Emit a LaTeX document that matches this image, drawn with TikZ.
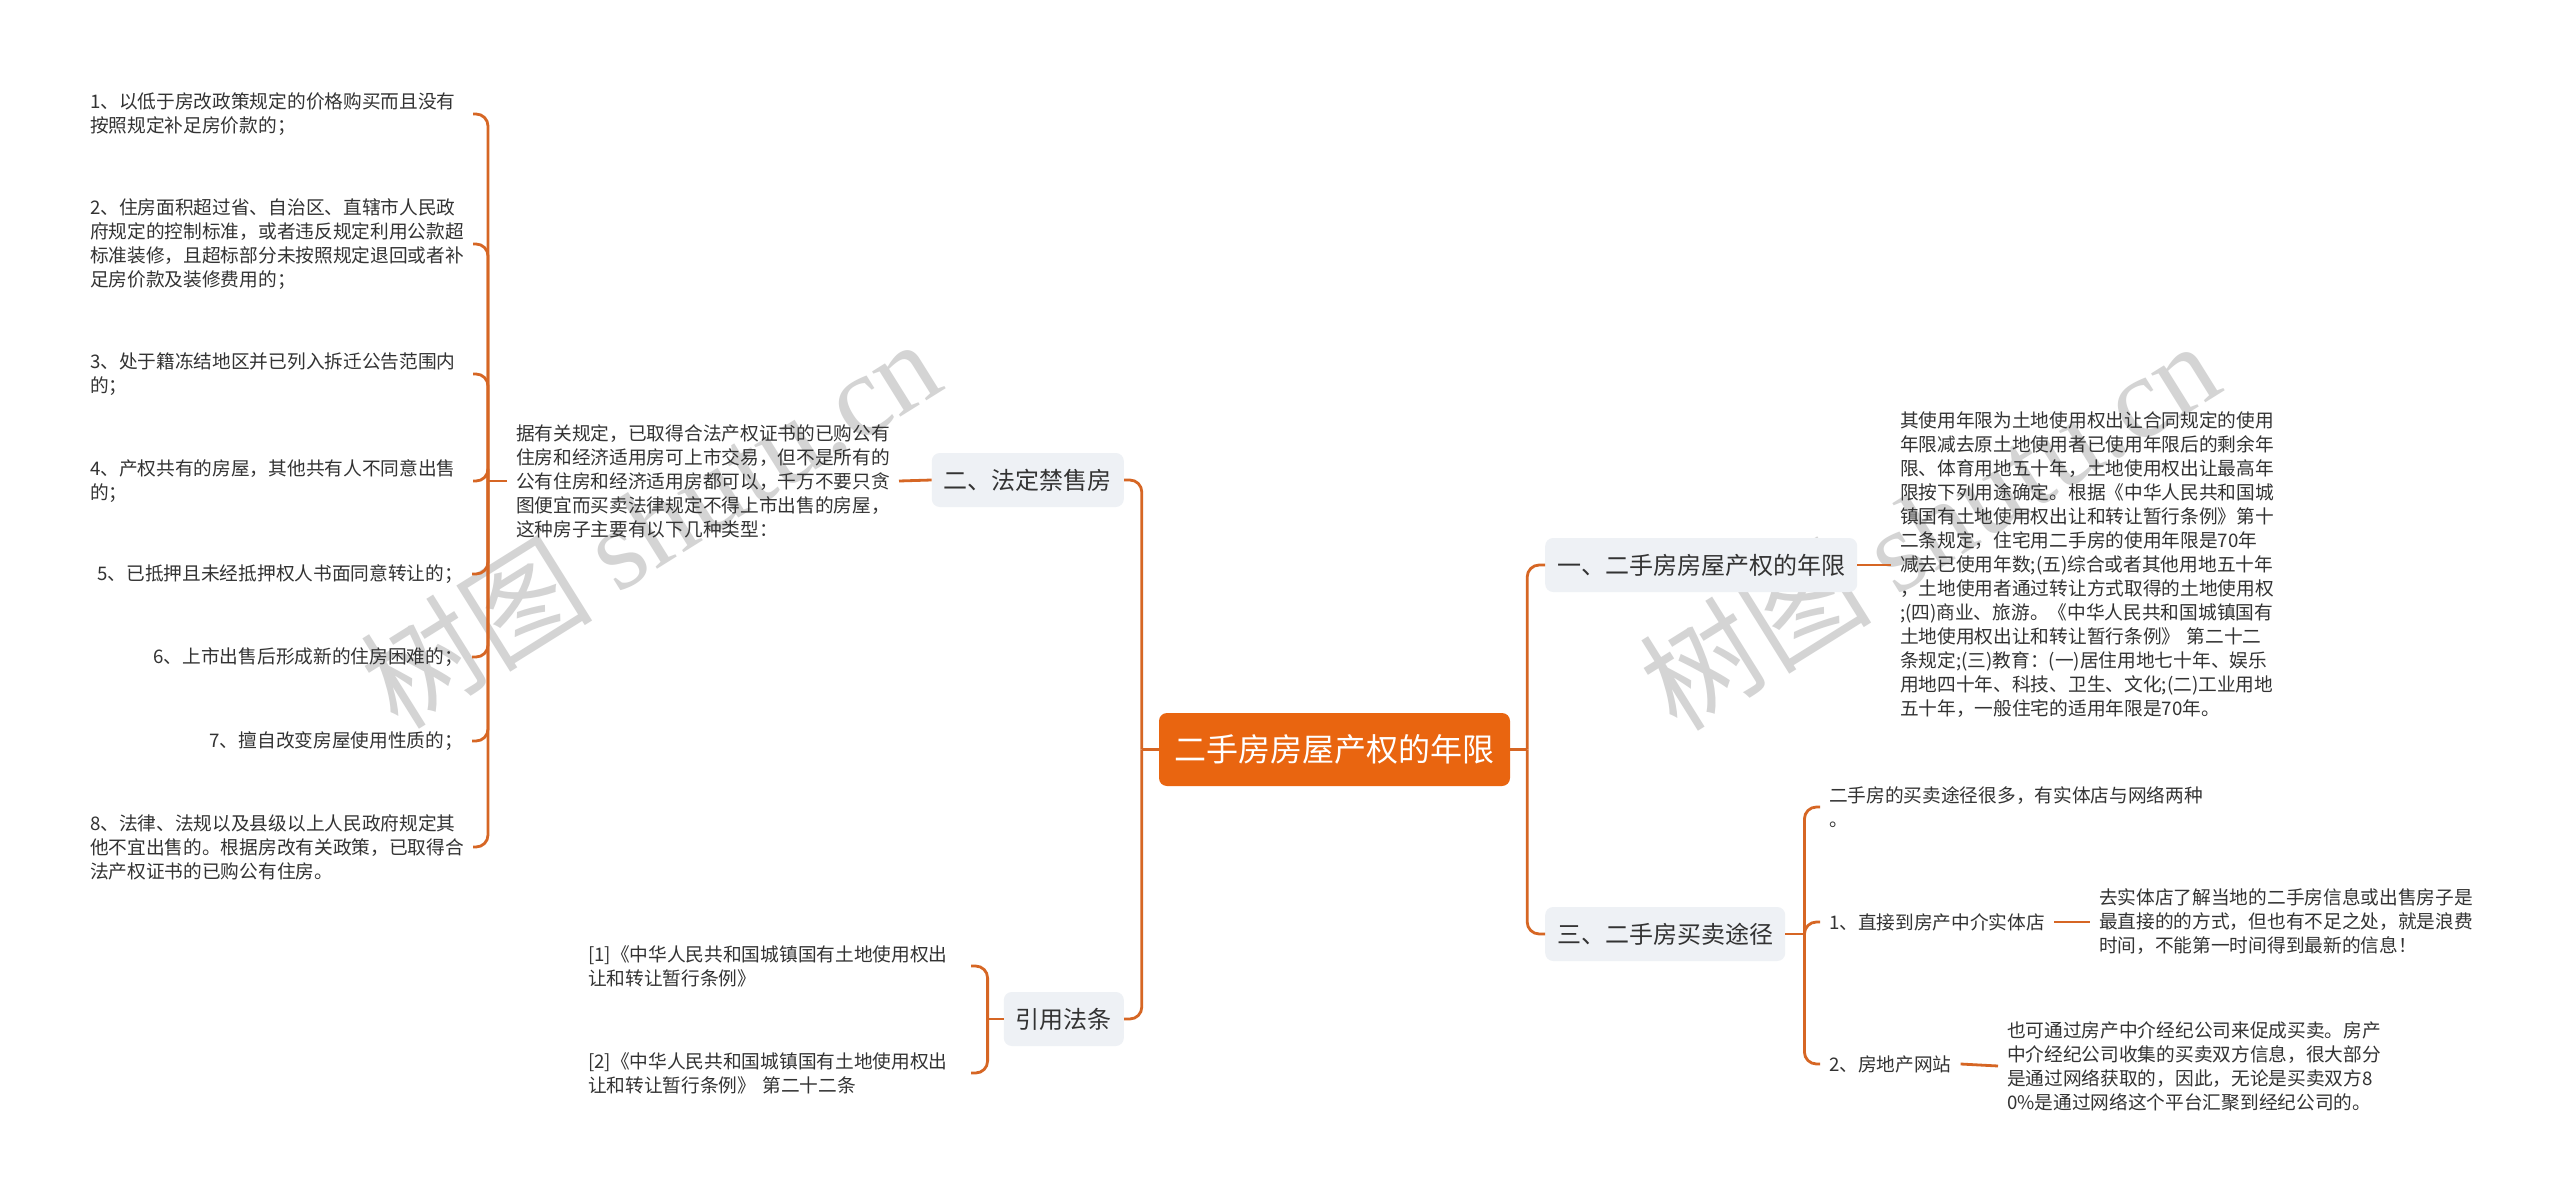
\documentclass[tikz,border=0pt]{standalone}
\usepackage{fontspec}
\setmainfont{Noto Sans CJK SC}
\newfontfamily\wmserif{Liberation Serif}
\usetikzlibrary{positioning}
\definecolor{rootorange}{RGB}{233,101,16}
\definecolor{linkorange}{RGB}{214,102,36}
\definecolor{boxgray}{RGB}{238,241,245}
\definecolor{inkgray}{RGB}{51,51,51}

\begin{document}
\begin{tikzpicture}
    [x=1pt, y=-1pt,
    every node/.style={inner sep=0pt, text=inkgray},
    root/.style={fill=rootorange, rounded corners=8pt, text=white,
        minimum width=351pt, minimum height=73pt, font=\fontsize{32}{36}\selectfont},
    branch/.style={fill=boxgray, rounded corners=8pt, inner xsep=12pt,
        minimum height=54pt, font=\fontsize{24}{28}\selectfont},
    note/.style={outer xsep=9pt, font=\fontsize{18.7}{24}\selectfont},
    para/.style={note, text width=374pt, align=left},
    link/.style={draw=linkorange, line width=2.8pt, rounded corners=12pt},
    wmark/.style={text=black!17, font=\fontsize{116}{116}\selectfont}]
    \fill[white] (0,0) rectangle (2560,1201);
    \useasboundingbox (0,0) rectangle (2560,1201);
    \node[wmark, rotate=32] (wm1) at (650,522) {树图 {\wmserif shutu.cn}};
    \node[wmark, rotate=32] (wm2) at (1929,524) {树图 {\wmserif shutu.cn}};

    \node[root] (root) at (1334.5,749.5) {二手房房屋产权的年限};
    \node[branch, anchor=east] (ban) at (1124,480) {二、法定禁售房};
    \node[branch, anchor=east] (cite) at (1124,1019) {引用法条};
    \node[branch, anchor=west] (term) at (1545,565) {一、二手房房屋产权的年限};
    \node[branch, anchor=west] (route) at (1545,934) {三、二手房买卖途径};
    \coordinate[left=17pt of root.west] (forkL);
    \coordinate[right=17pt of root.east] (forkR);
    \draw[link] (root.west) -- (forkL);
    \draw[link] (forkL) |- (ban.east);
    \draw[link] (forkL) |- (cite.east);
    \draw[link] (root.east) -- (forkR);
    \draw[link] (forkR) |- (term.west);
    \draw[link] (forkR) |- (route.west);

    \node[para, anchor=west] (why) at (507,481) {据有关规定，已取得合法产权证书的已购公有\\住房和经济适用房可上市交易，但不是所有的\\公有住房和经济适用房都可以，千万不要只贪\\图便宜而买卖法律规定不得上市出售的房屋，\\这种房子主要有以下几种类型：};
    \draw[link] (ban.west) -- (why.east);
    \coordinate[left=19pt of why.west] (forkW);
    \node[para, anchor=west] (n1) at (81,114) {1、以低于房改政策规定的价格购买而且没有\\按照规定补足房价款的；};
    \node[para, anchor=west] (n2) at (81,244) {2、住房面积超过省、自治区、直辖市人民政\\府规定的控制标准，或者违反规定利用公款超\\标准装修，且超标部分未按照规定退回或者补\\足房价款及装修费用的；};
    \node[para, anchor=west] (n3) at (81,374) {3、处于籍冻结地区并已列入拆迁公告范围内\\的；};
    \node[para, anchor=west] (n4) at (81,481) {4、产权共有的房屋，其他共有人不同意出售\\的；};
    \node[note, anchor=east] (n5) at (472,574) {5、已抵押且未经抵押权人书面同意转让的；};
    \node[note, anchor=east] (n6) at (472,657) {6、上市出售后形成新的住房困难的；};
    \node[note, anchor=east] (n7) at (472,741) {7、擅自改变房屋使用性质的；};
    \node[para, anchor=west] (n8) at (81,847) {8、法律、法规以及县级以上人民政府规定其\\他不宜出售的。根据房改有关政策，已取得合\\法产权证书的已购公有住房。};
    \draw[link] (why.west) -- (forkW);
    \draw[link] (forkW) |- (n1.east);
    \draw[link] (forkW) |- (n2.east);
    \draw[link] (forkW) |- (n3.east);
    \draw[link] (forkW) |- (n4.east);
    \draw[link] (forkW) |- (n5.east);
    \draw[link] (forkW) |- (n6.east);
    \draw[link] (forkW) |- (n7.east);
    \draw[link] (forkW) |- (n8.east);

    \coordinate[left=16pt of cite.west] (forkC);
    \node[para, anchor=west] (ref1) at (579,966) {[1]《中华人民共和国城镇国有土地使用权出\\让和转让暂行条例》};
    \node[para, anchor=west] (ref2) at (579,1073) {[2]《中华人民共和国城镇国有土地使用权出\\让和转让暂行条例》 第二十二条};
    \draw[link] (cite.west) -- (forkC);
    \draw[link] (forkC) |- (ref1.east);
    \draw[link] (forkC) |- (ref2.east);

    \node[para, anchor=west] (termtext) at (1891,565) {其使用年限为土地使用权出让合同规定的使用\\年限减去原土地使用者已使用年限后的剩余年\\限、体育用地五十年，土地使用权出让最高年\\限按下列用途确定。根据《中华人民共和国城\\镇国有土地使用权出让和转让暂行条例》第十\\二条规定，住宅用二手房的使用年限是70年\\减去已使用年数;(五)综合或者其他用地五十年\\，土地使用者通过转让方式取得的土地使用权\\;(四)商业、旅游。《中华人民共和国城镇国有\\土地使用权出让和转让暂行条例》 第二十二\\条规定;(三)教育：(一)居住用地七十年、娱乐\\用地四十年、科技、卫生、文化;(二)工业用地\\五十年，一般住宅的适用年限是70年。};
    \draw[link] (term.east) -- (termtext.west);

    \coordinate[right=19pt of route.east] (forkT);
    \node[para, anchor=west] (way) at (1820,807) {二手房的买卖途径很多，有实体店与网络两种\\。};
    \node[note, anchor=west] (shop) at (1820,922) {1、直接到房产中介实体店};
    \node[note, anchor=west] (web) at (1820,1064) {2、房地产网站};
    \draw[link] (route.east) -- (forkT);
    \draw[link] (forkT) |- (way.west);
    \draw[link] (forkT) |- (shop.west);
    \draw[link] (forkT) |- (web.west);
    \node[para, anchor=west] (shoptext) at (2090,922) {去实体店了解当地的二手房信息或出售房子是\\最直接的的方式，但也有不足之处，就是浪费\\时间，不能第一时间得到最新的信息！};
    \node[para, anchor=west] (webtext) at (1998,1066) {也可通过房产中介经纪公司来促成买卖。房产\\中介经纪公司收集的买卖双方信息，很大部分\\是通过网络获取的，因此，无论是买卖双方8\\0\%是通过网络这个平台汇聚到经纪公司的。};
    \draw[link] (shop.east) -- (shoptext.west);
    \draw[link] (web.east) -- (webtext.west);
\end{tikzpicture}
\end{document}
